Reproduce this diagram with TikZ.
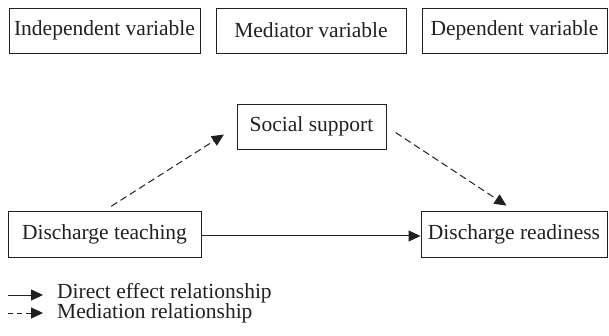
\documentclass[tikz,border=0pt]{standalone}
\usepackage{fontspec}
\setmainfont{Liberation Serif}
\usetikzlibrary{arrows.meta}
\definecolor{ink}{HTML}{231F20}
\begin{document}
\begin{tikzpicture}[x=1pt,y=-1pt,
  font=\fontsize{21.5}{25}\selectfont, text=ink,
  box/.style={draw=ink, line width=0.9pt, inner sep=0pt, align=center},
  conn/.style={draw=ink, line width=1pt, -{Triangle[length=12pt,width=11pt]}},
  dashconn/.style={conn, dash pattern=on 7pt off 4pt},
  legtext/.style={anchor=base west, inner sep=0pt}]
\useasboundingbox (0,0) rectangle (609,336);
% header row
\node[box, minimum width=191pt, minimum height=45pt] (iv) at (104.5,30.5) {Independent variable};
\node[box, minimum width=190pt, minimum height=45pt] (mv) at (311,30.5) {Mediator variable};
\node[box, minimum width=185pt, minimum height=45pt] (dv) at (514.5,30.5) {Dependent variable};
% model
\node[box, minimum width=149pt, minimum height=45pt] (ss) at (311.5,126.5) {Social support};
\node[box, minimum width=193pt, minimum height=46pt] (dt) at (104.5,234) {Discharge teaching};
\node[box, minimum width=186pt, minimum height=46pt] (dr) at (514,234) {Discharge readiness};
\draw[conn] ([yshift=-2pt]dt.east) -- ([yshift=-2pt]dr.west);
\draw[dashconn, shorten <=8pt, shorten >=15pt] (dt.north) -- (ss.west);
\draw[dashconn, shorten <=11pt, shorten >=9pt] (ss.east) -- (dr.north);
% legend
\coordinate (l1a) at (8,295);
\coordinate (l1b) at (43,295);
\coordinate (l2a) at (8,313);
\coordinate (l2b) at (43,313);
\draw[conn] (l1a) -- (l1b);
\draw[conn, dash pattern=on 5pt off 4pt] (l2a) -- (l2b);
\node[legtext] (lt1) at (57,298.5) {Direct effect relationship};
\node[legtext] (lt2) at (57,318.5) {Mediation relationship};
\end{tikzpicture}
\end{document}
